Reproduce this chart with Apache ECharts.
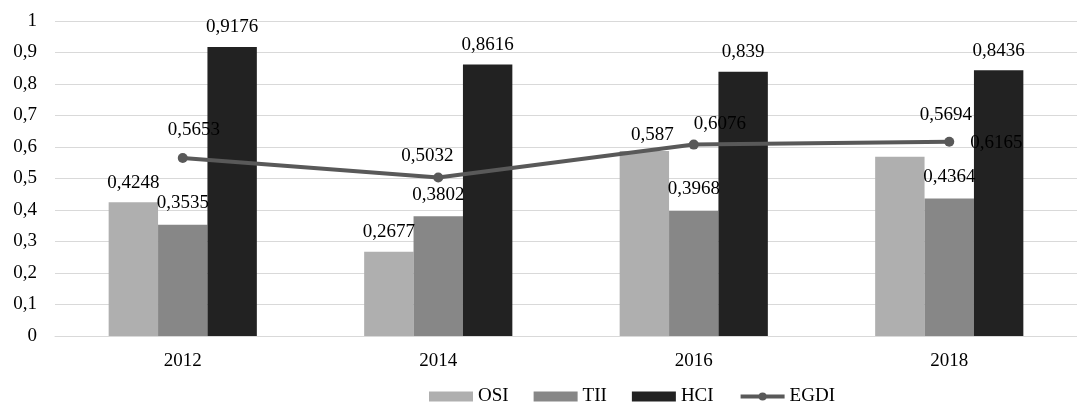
<!DOCTYPE html>
<html>
<head>
<meta charset="utf-8">
<script src="https://cdn.jsdelivr.net/npm/echarts@6/dist/echarts.min.js"></script>
<style>
html,body{margin:0;padding:0;background:#fff;}
#chart{width:1077px;height:403px;}
</style>
</head>
<body>
<div id="chart"></div>
<script>
var categories = ['2012', '2014', '2016', '2018'];
var osi = [0.4248, 0.2677, 0.587, 0.5694];
var tii = [0.3535, 0.3802, 0.3968, 0.4364];
var hci = [0.9176, 0.8616, 0.839, 0.8436];
var egdi = [0.5653, 0.5032, 0.6076, 0.6165];

var FONT = 'Liberation Serif';
function fmt(v) { return String(v).replace('.', ','); }

// per-point label tweaks (matching manual placement in the source chart)
var osiLabelOffsets = [[0, 0], [0, 0], [8, 3], [46, -22]];
var egdiLabelCfg = [
  { position: 'top', offset: [11, -8] },
  { position: 'top', offset: [-11, -2] },
  { position: 'top', offset: [26, -1] },
  { position: 'right', offset: [11, 1] }
];

function items(values, cfgFn) {
  return values.map(function (v, i) {
    var o = { value: v };
    var c = cfgFn ? cfgFn(i) : null;
    if (c) o.label = c;
    return o;
  });
}

var labelBase = { show: true, fontFamily: FONT, fontSize: 19, color: '#000', formatter: function (p) { return fmt(p.value); } };

var chart = echarts.init(document.getElementById('chart'), null, { renderer: 'canvas' });
chart.setOption({
  animation: false,
  backgroundColor: '#fff',
  grid: { left: 55, right: 0, top: 21, bottom: 67 },
  legend: {
    left: 424, top: 382,
    itemWidth: 44, itemHeight: 10, itemGap: 25,
    textStyle: { fontFamily: FONT, fontSize: 19, color: '#000' },
    data: [
      { name: 'OSI', icon: 'rect' },
      { name: 'TII', icon: 'rect' },
      { name: 'HCI', icon: 'rect' },
      { name: 'EGDI', lineStyle: { width: 4, color: '#595959' }, itemStyle: { color: '#595959' } }
    ]
  },
  xAxis: {
    type: 'category',
    data: categories,
    axisLine: { show: true, lineStyle: { color: '#d9d9d9', width: 1 } },
    axisTick: { show: false },
    axisLabel: { fontFamily: FONT, fontSize: 19, color: '#000', margin: 16 }
  },
  yAxis: {
    type: 'value',
    min: 0, max: 1, interval: 0.1,
    axisLine: { show: false },
    axisTick: { show: false },
    splitLine: { lineStyle: { color: '#d9d9d9', width: 1 } },
    axisLabel: {
      fontFamily: FONT, fontSize: 19, color: '#000', margin: 18,
      formatter: function (v) { return fmt(Math.round(v * 10) / 10); }
    }
  },
  series: [
    {
      name: 'OSI', type: 'bar', barGap: '0%', barCategoryGap: '42%',
      itemStyle: { color: '#afafaf' },
      label: Object.assign({}, labelBase, { position: 'top', distance: 10 }),
      data: items(osi, function (i) { return { offset: osiLabelOffsets[i] }; })
    },
    {
      name: 'TII', type: 'bar', barGap: '0%', barCategoryGap: '42%',
      itemStyle: { color: '#878787' },
      label: Object.assign({}, labelBase, { position: 'top', distance: 12 }),
      data: items(tii)
    },
    {
      name: 'HCI', type: 'bar', barGap: '0%', barCategoryGap: '42%',
      itemStyle: { color: '#222222' },
      label: Object.assign({}, labelBase, { position: 'top', distance: 10 }),
      data: items(hci)
    },
    {
      name: 'EGDI', type: 'line', z: 5,
      symbol: 'circle', symbolSize: 10,
      lineStyle: { color: '#595959', width: 4 },
      itemStyle: { color: '#595959' },
      label: Object.assign({}, labelBase, { distance: 5 }),
      data: items(egdi, function (i) { return egdiLabelCfg[i]; })
    }
  ]
});
</script>
</body>
</html>
